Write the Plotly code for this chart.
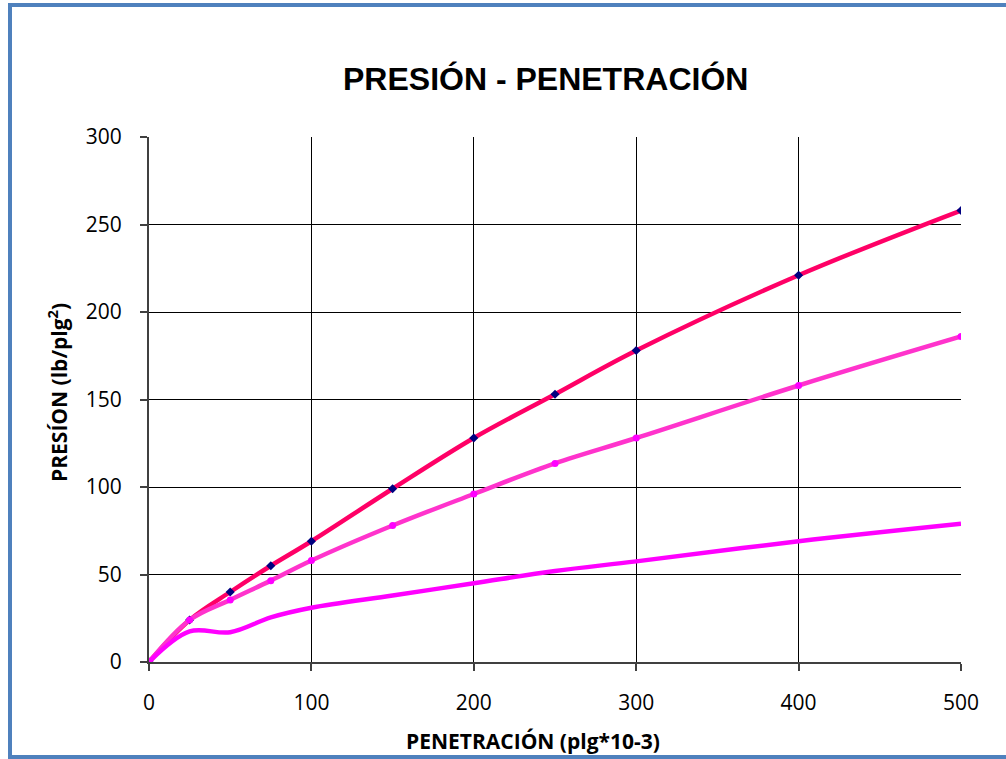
import plotly.graph_objects as go

# Penetration readings (plg*10-3)
penetracion = [0, 25, 50, 75, 100, 150, 200, 250, 300, 400, 500]

# Pressure readings (lb/plg2) for the three specimens
presion_a = [0, 24, 40, 55, 69, 99, 128, 153, 178, 221, 258]
presion_b = [0, 24, 35.5, 46.5, 58, 78, 96, 113.5, 128, 158, 186]
presion_c = [0, 17.5, 17, 25.5, 31, 38, 45, 52, 57.5, 69, 79]

W, H = 1006, 759
L, R, T, B = 149, 45, 137, 97

def px_x(p):
    return (p - L) / (W - L - R)

def px_y(p):
    return (H - B - p) / (H - T - B)

fig = go.Figure()

fig.add_trace(go.Scatter(
    x=penetracion, y=presion_a, mode="lines+markers",
    line=dict(color="#FF0066", width=4.5, shape="spline", smoothing=1),
    marker=dict(symbol="diamond", size=7, color="#000080"),
))
fig.add_trace(go.Scatter(
    x=penetracion, y=presion_b, mode="lines+markers",
    line=dict(color="#FF33CC", width=4.5, shape="spline", smoothing=1),
    marker=dict(symbol="circle", size=7, color="#FF00FF"),
))
fig.add_trace(go.Scatter(
    x=penetracion, y=presion_c, mode="lines",
    line=dict(color="#FF00FF", width=4.5, shape="spline", smoothing=1),
))

tick_font = dict(family="Open Sans", size=21, color="#000000")
title_font = dict(family="Open Sans", size=21, color="#000000")

fig.update_layout(
    width=W, height=H,
    margin=dict(l=L, r=R, t=T, b=B),
    paper_bgcolor="white", plot_bgcolor="white",
    showlegend=False,
    xaxis=dict(
        range=[0, 500], dtick=100, tick0=0,
        showgrid=True, gridcolor="#000000", gridwidth=1,
        showline=True, linecolor="#404040", linewidth=2,
        ticks="outside", ticklen=7, tickcolor="#404040", tickwidth=2,
        tickfont=tick_font, ticklabelstandoff=14, zeroline=False,
    ),
    yaxis=dict(
        range=[0, 300], dtick=50, tick0=0,
        showgrid=True, gridcolor="#000000", gridwidth=1,
        showline=True, linecolor="#404040", linewidth=2,
        ticks="outside", ticklen=7, tickcolor="#404040", tickwidth=2,
        tickfont=tick_font, ticklabelstandoff=14, zeroline=False,
    ),
    shapes=[
        dict(type="rect", xref="paper", yref="paper",
             x0=px_x(10), x1=px_x(1020), y0=px_y(757), y1=px_y(5),
             line=dict(color="#4F81BD", width=4), fillcolor="rgba(0,0,0,0)",
             layer="below"),
    ],
    annotations=[
        dict(text="<b>PRESIÓN - PENETRACIÓN</b>", xref="paper", yref="paper",
             x=px_x(545), y=px_y(79), showarrow=False,
             xanchor="center", yanchor="middle",
             font=dict(family="Liberation Sans", size=32, color="#000000")),
        dict(text="<b>PENETRACIÓN (plg*10-3)</b>", xref="paper", yref="paper",
             x=px_x(533), y=px_y(741), showarrow=False,
             xanchor="center", yanchor="middle", font=title_font),
        dict(text="<b>PRESÍON (lb/plg<sup>2</sup>)</b>", xref="paper", yref="paper",
             x=px_x(57), y=px_y(393), showarrow=False, textangle=-90,
             xanchor="center", yanchor="middle", font=title_font),
    ],
)

fig.write_html("out.html")
